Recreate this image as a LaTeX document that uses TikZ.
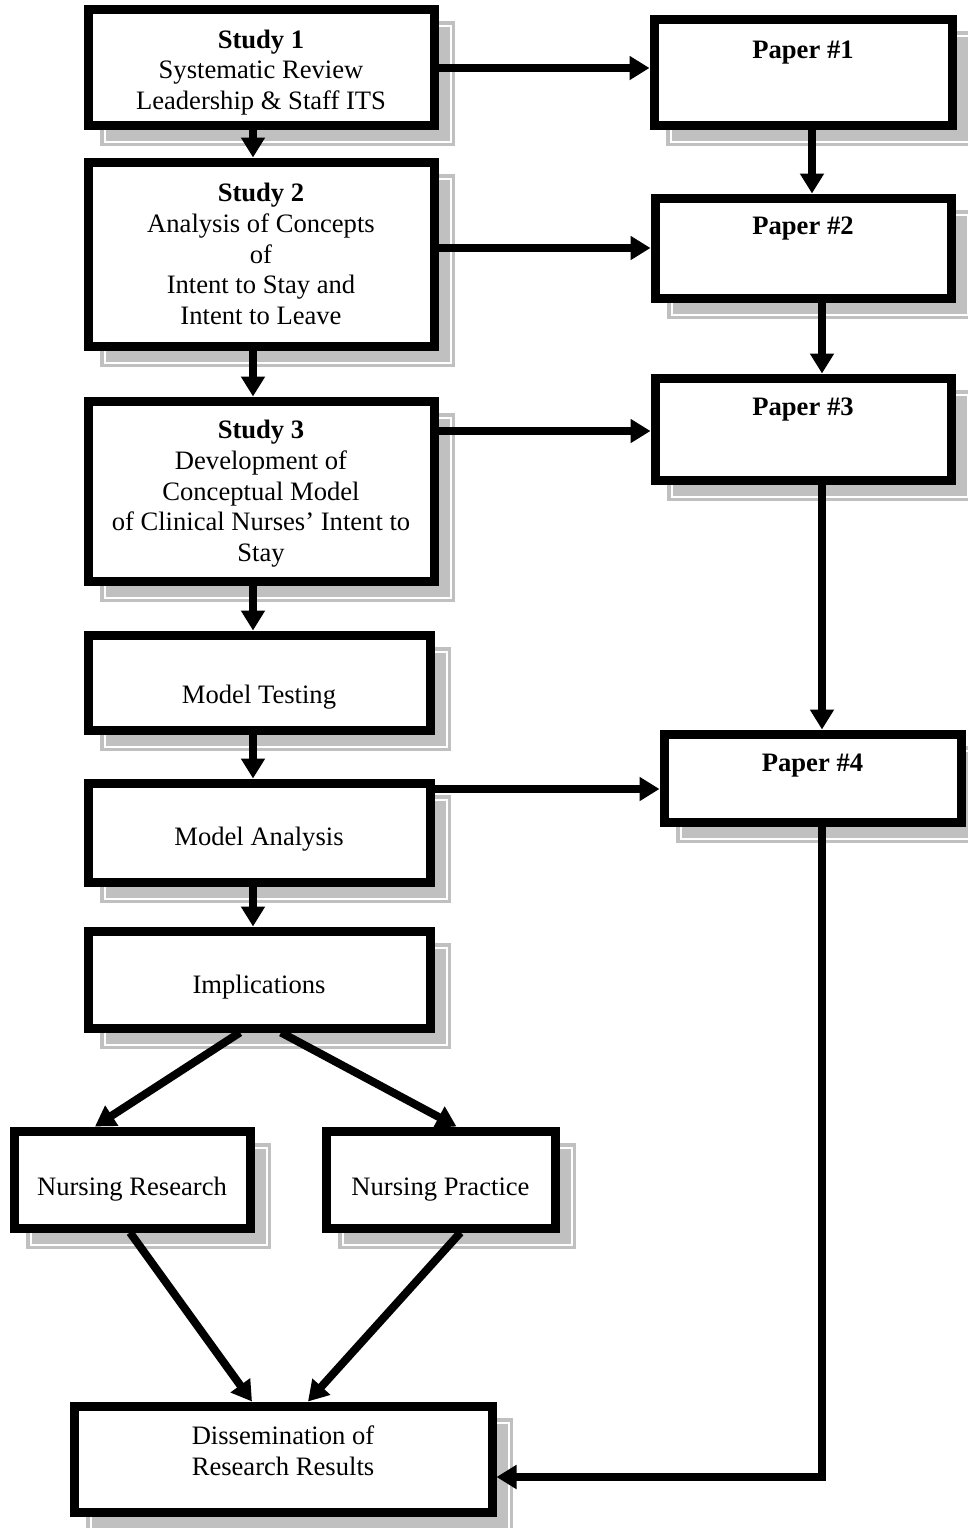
\documentclass[tikz,border=0pt]{standalone}
\usepackage{fontspec}
\setmainfont{Liberation Serif}
\usetikzlibrary{arrows.meta,shadows,calc}
\definecolor{shadowgray}{HTML}{C0C0C0}

\tikzset{
  stagebox/.style={draw, line width=4.5pt, fill=white, align=center, inner sep=2pt,
    font=\fontsize{13.3pt}{15.3pt}\selectfont,
    general shadow={fill=shadowgray, draw=shadowgray, line width=4.5pt, shadow xshift=8pt, shadow yshift=-8pt},
    general shadow={draw=white, line width=0.6pt, shadow xshift=8.5pt, shadow yshift=-8.5pt}},
  paperbox/.style={stagebox, text height=10pt, text depth=24pt,
    font=\fontsize{13.3pt}{15.3pt}\selectfont\bfseries},
  link/.style={line width=4pt, -{Triangle[length=10pt,width=11.5pt]}}
}

\begin{document}
\begin{tikzpicture}[x=0.5pt, y=-0.5pt]

\useasboundingbox (0,0) rectangle (968,1528);

\coordinate (lcol) at (253,0);

\coordinate (rcolA) at (812,0);

\coordinate (rcol) at (822,0);

% left column
\node (study1) [stagebox, minimum width=173pt, minimum height=58pt] at (261,67) {\rule{0pt}{14.5pt}\textbf{Study 1}\\Systematic Review\\Leadership \& Staff ITS};

\node (study2) [stagebox, minimum width=173pt, minimum height=92pt] at (261,254) {\textbf{Study 2}\\Analysis of Concepts\\of\\Intent to Stay and\\Intent to Leave};

\node (study3) [stagebox, minimum width=173pt, minimum height=90pt] at (261,491) {\rule{0pt}{12pt}\textbf{Study 3}\\Development of\\Conceptual Model\\of Clinical Nurses’ Intent to\\Stay};

\node (mtest) [stagebox, minimum width=171pt, minimum height=47.5pt, text height=24pt] at (259,682.5) {Model Testing};

\node (manal) [stagebox, minimum width=171pt, minimum height=49.5pt, text height=15.5pt] at (259,832.5) {Model Analysis};

\node (impl) [stagebox, minimum width=171pt, minimum height=48.5pt, text height=16.5pt] at (259,979.5) {Implications};

\node (nres) [stagebox, minimum width=118pt, minimum height=48.5pt, text height=18.5pt] at (132,1179.5) {Nursing Research};

\node (nprac) [stagebox, minimum width=114.5pt, minimum height=48.5pt, text height=18.5pt] at (440.5,1179.5) {Nursing Practice};

\node (dissem) [stagebox, minimum width=209pt, minimum height=53pt] at (283,1459) {Dissemination of\\Research Results\rule[-8.5pt]{0pt}{8.5pt}};

% right column
\node (paper1) [paperbox, minimum width=149pt, minimum height=53pt] at (803,72) {Paper \#1};

\node (paper2) [paperbox, minimum width=148pt, minimum height=50pt] at (803,248) {Paper \#2};

\node (paper3) [paperbox, minimum width=148pt, minimum height=51pt] at (803,429) {Paper \#3};

\node (paper4) [paperbox, minimum width=148.5pt, minimum height=44pt, text depth=17pt] at (812.5,778) {Paper \#4};

% links down the left
\draw[link] (study1.south -| lcol) -- (study2.north -| lcol);

\draw[link] (study2.south -| lcol) -- (study3.north -| lcol);

\draw[link] (study3.south -| lcol) -- (mtest.north -| lcol);

\draw[link] (mtest.south -| lcol) -- (manal.north -| lcol);

\draw[link] (manal.south -| lcol) -- (impl.north -| lcol);

% links across
\draw[link] (study1.east |- 0,68) -- (paper1.west |- 0,68);

\draw[link] (study2.east |- 0,248) -- (paper2.west |- 0,248);

\draw[link] (study3.east |- 0,431) -- (paper3.west |- 0,431);

\draw[link] (manal.east |- 0,789) -- (paper4.west |- 0,789);

% links down the right
\draw[link] (paper1.south -| rcolA) -- (paper2.north -| rcolA);

\draw[link] (paper2.south -| rcol) -- (paper3.north -| rcol);

\draw[link] (paper3.south -| rcol) -- (paper4.north -| rcol);

\draw[link] (paper4.south -| rcol) |- (dissem.east |- 0,1477);

% fan out and back in
\draw[link] ($(impl.south)+(-19,0)$) -- ($(nres.north)+(-37,0)$);

\draw[link] ($(impl.south)+(22,0)$) -- ($(nprac.north)+(16,0)$);

\draw[link] ($(nres.south)+(-2,0)$) -- ($(dissem.north)+(-31,0)$);

\draw[link] ($(nprac.south)+(20,0)$) -- ($(dissem.north)+(25,0)$);

\end{tikzpicture}
\end{document}
